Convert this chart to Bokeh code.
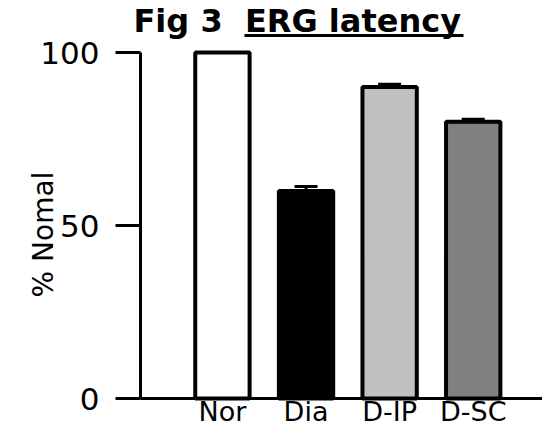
import math
from bokeh.plotting import figure
from bokeh.models import ColumnDataSource, Range1d, FixedTicker, Whisker, TeeHead
from bokeh.core.properties import value
from bokeh.embed import file_html
from bokeh.resources import INLINE

# ERG latency as percentage of normal, mean with SEM
groups = ["Nor", "Dia", "D-IP", "D-SC"]
latency_pct = [100, 60, 90, 80]
latency_sem = [0, 1.3, 0.8, 0.7]
bar_colors = ["#ffffff", "#000000", "#c0c0c0", "#808080"]
y_ticks = [0, 50, 100]
title_text = "Fig 3\u00a0 ERG latency"
y_title = "% Nomal"

positions = [i + 1 for i in range(len(groups))]

src = ColumnDataSource(dict(
    x=positions,
    top=latency_pct,
    upper=[m + s for m, s in zip(latency_pct, latency_sem)],
    color=bar_colors,
))

FONT = "DejaVu Sans"
W, H = 542, 429

# The frame fills the whole canvas; both axes are pinned at data locations
# so that the heading and the axis title can be placed freely as glyphs.
PX_PER_X = 83.6          # pixels per category step
PX_PER_Y = 3.46          # pixels per percent
AXIS_PX_X = 140          # canvas x of the value axis
AXIS_PX_Y = 398          # canvas y of the category axis
X_AT_AXIS = 0.02

x_start = X_AT_AXIS - AXIS_PX_X / PX_PER_X
x_end = X_AT_AXIS + (W - AXIS_PX_X) / PX_PER_X
y_end = AXIS_PX_Y / PX_PER_Y
y_start = y_end - H / PX_PER_Y


def cx(px):
    return x_start + px / PX_PER_X


def cy(py):
    return y_end - py / PX_PER_Y


p = figure(width=W, height=H, output_backend="svg", toolbar_location=None,
           title=None,
           x_range=Range1d(x_start, x_end), y_range=Range1d(y_start, y_end),
           min_border=0, min_border_left=0, min_border_right=0,
           min_border_top=0, min_border_bottom=0)

p.vbar(x="x", top="top", bottom=0, width=0.65, source=src,
       fill_color="color", line_color="black", line_width=4)

p.add_layout(Whisker(base="x", lower="top", upper="upper", source=src,
                     lower_head=None,
                     upper_head=TeeHead(size=23, line_width=3, line_color="black"),
                     line_width=3, line_color="black"))

# heading with underlined "ERG latency"
p.text(x=[cx(133)], y=[cy(20)], text=[title_text], text_font=value(FONT),
       text_font_size="32px", text_font_style="bold", text_color="black",
       text_baseline="alphabetic", text_align="left")
p.segment(x0=[cx(244)], y0=[cy(35)], x1=[cx(463)], y1=[cy(35)],
          line_color="black", line_width=3)

# vertical axis title
p.text(x=[cx(43)], y=[cy(234)], text=[y_title], angle=math.pi / 2,
       text_font=value(FONT), text_font_size="28px", text_color="black",
       text_baseline="alphabetic", text_align="center")

p.xgrid.visible = False
p.ygrid.visible = False
p.outline_line_color = None

xa = p.xaxis[0]
xa.fixed_location = 0
xa.bounds = (X_AT_AXIS, x_end)
xa.ticker = FixedTicker(ticks=positions)
xa.major_label_overrides = {pos: g for pos, g in zip(positions, groups)}
xa.major_tick_out = 0
xa.major_tick_in = 0
xa.minor_tick_out = 0
xa.minor_tick_in = 0
xa.axis_line_width = 3
xa.major_label_standoff = -3
xa.major_label_text_font = FONT
xa.major_label_text_font_size = "27px"
xa.major_label_text_color = "black"

ya = p.yaxis[0]
ya.fixed_location = X_AT_AXIS
ya.ticker = FixedTicker(ticks=y_ticks)
ya.bounds = (0, 100)
ya.major_tick_out = 25
ya.major_tick_in = 0
ya.major_tick_line_width = 3
ya.minor_tick_out = 0
ya.minor_tick_in = 0
ya.axis_line_width = 3
ya.major_label_standoff = 16
ya.major_label_text_font = FONT
ya.major_label_text_font_size = "31px"
ya.major_label_text_color = "black"

open("out.html", "w").write(file_html(p, INLINE))
